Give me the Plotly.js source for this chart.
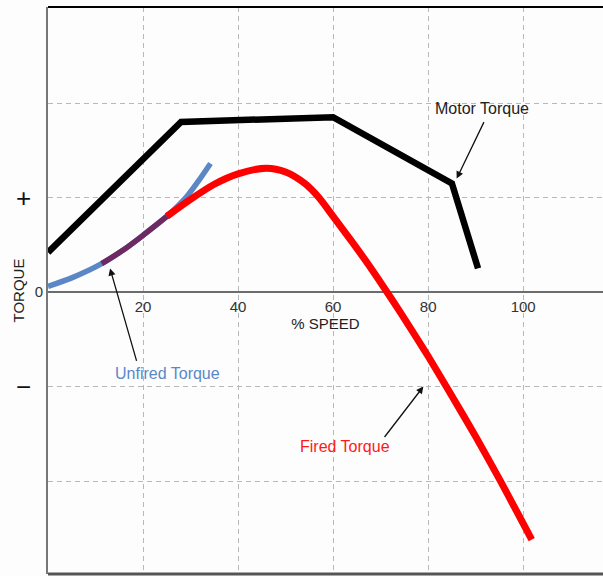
<!DOCTYPE html>
<html>
<head>
<meta charset="utf-8">
<script src="https://cdn.plot.ly/plotly-3.0.1.min.js"></script>
<style>html,body{margin:0;padding:0;background:#fdfdfd;}</style>
</head>
<body>
<div id="chart" style="width:603px;height:576px;"></div>
<script>
// ---- data (speed in %, torque in grid units) ----
const speedMotor   = [0, 28, 60, 85, 90.5];
const torqueMotor  = [0.42, 1.80, 1.85, 1.15, 0.25];

const speedUnfired  = [0, 5, 11.3, 16, 20, 25, 29.2, 31.6, 34.2];
const torqueUnfired = [0.06, 0.15, 0.30, 0.45, 0.60, 0.80, 1.01, 1.17, 1.36];

const speedFired  = [11.3, 16, 20, 25, 30, 35, 40, 46, 50, 54, 57, 60, 64, 68, 72, 76, 80, 85, 90, 95, 101.8];
const torqueFired = [0.30, 0.45, 0.60, 0.80, 0.98, 1.14, 1.25, 1.31, 1.27, 1.15, 1.00, 0.80, 0.53, 0.25, -0.05, -0.36, -0.68, -1.10, -1.53, -1.98, -2.62];
const overlapCount = 4; // first fired points run on top of the unfired curve

const xTickVals  = [20, 40, 60, 80, 100];
const xTickText  = ['20', '40', '60', '80', '100'];
const yTickVals  = [-2, -1, 0, 1, 2];
const yTickText  = ['', '', '0', '', ''];
const ySignVals  = [1, -1];
const ySignText  = ['+', '\u2212'];

const labelMotor   = 'Motor Torque';
const labelUnfired = 'Unfired Torque';
const labelFired   = 'Fired Torque';
const xTitle = '% SPEED';
const yTitle = 'TORQUE';

// ---- styling ----
const FONT = 'Liberation Sans, Arial, Helvetica, sans-serif';
const BLUE = '#5b87c6', RED = '#ff0000', PURPLE = '#6e2862', BLACK = '#000000';
const yMin = -2.984, yMax = 3.016;
const xMin = 0, xMax = 116.8;

const traces = [
  {x: speedUnfired, y: torqueUnfired, mode: 'lines', line: {color: BLUE, width: 5.5, shape: 'spline', smoothing: 0.8}, hoverinfo: 'skip'},
  {x: speedFired.slice(overlapCount - 1), y: torqueFired.slice(overlapCount - 1), mode: 'lines', line: {color: RED, width: 7, shape: 'spline', smoothing: 0.8}, hoverinfo: 'skip'},
  {x: speedFired.slice(0, overlapCount), y: torqueFired.slice(0, overlapCount), mode: 'lines', line: {color: PURPLE, width: 5.5, shape: 'spline', smoothing: 0.8}, hoverinfo: 'skip'},
  {x: speedMotor, y: torqueMotor, mode: 'lines', line: {color: BLACK, width: 6.5}, hoverinfo: 'skip'}
];

const arrowCommon = {showarrow: true, arrowhead: 2, arrowsize: 1.1, arrowwidth: 1.3, arrowcolor: '#111', text: '', axref: 'pixel', ayref: 'pixel'};

const annotations = [
  // arrows (head at data point, tail offset in pixels)
  Object.assign({x: 86.0, y: 1.20, ax: 28, ay: -58}, arrowCommon),
  Object.assign({x: 13.05, y: 0.25, ax: 27, ay: 94}, arrowCommon),
  Object.assign({x: 79.0, y: -1.0, ax: -40, ay: 52}, arrowCommon),
  // labels
  {x: 91.4, y: 1.94, text: labelMotor, showarrow: false, font: {family: FONT, size: 16, color: '#222'}},
  {x: 25.05, y: -0.857, text: labelUnfired, showarrow: false, font: {family: FONT, size: 16, color: BLUE}},
  {x: 62.5, y: -1.64, text: labelFired, showarrow: false, font: {family: FONT, size: 16, color: '#ff1a1a'}}
];
ySignVals.forEach((v, i) => {
  annotations.push({xref: 'paper', x: 0, xanchor: 'center', xshift: -25, y: v, yref: 'y', yanchor: 'middle',
                    text: ySignText[i], showarrow: false,
                    font: {family: FONT, size: 26, color: '#111'}});
});

const layout = {
  width: 603, height: 576,
  margin: {l: 48, r: 0, t: 7, b: 2, pad: 0},
  paper_bgcolor: '#fdfdfd', plot_bgcolor: '#fdfdfd',
  showlegend: false,
  font: {family: FONT, color: '#333'},
  xaxis: {
    range: [xMin, xMax], tickvals: xTickVals, ticktext: xTickText,
    showgrid: true, gridcolor: '#b8b8b8', griddash: '5px,4px', gridwidth: 1,
    zeroline: false, showline: false, ticks: '', ticklabelstandoff: 4,
    anchor: 'free', position: (0 - yMin) / (yMax - yMin),
    tickfont: {family: FONT, size: 15, color: '#333'},
    title: {text: xTitle, font: {family: FONT, size: 15, color: '#222'}, standoff: 2},
    fixedrange: true
  },
  yaxis: {
    range: [yMin, yMax], tickvals: yTickVals, ticktext: yTickText,
    showgrid: true, gridcolor: '#b8b8b8', griddash: '5px,4px', gridwidth: 1,
    zeroline: true, zerolinecolor: '#6c6c6c', zerolinewidth: 2.5,
    showline: true, linecolor: '#777', linewidth: 2, ticks: '',
    tickfont: {family: FONT, size: 15, color: '#333'},
    title: {text: yTitle, font: {family: FONT, size: 15, color: '#222'}, standoff: 6},
    fixedrange: true
  },
  shapes: [
    {type: 'line', xref: 'paper', yref: 'paper', x0: 0, x1: 1, y0: 1, y1: 1, line: {color: '#000', width: 2}},
    {type: 'line', xref: 'paper', yref: 'paper', x0: 0, x1: 1, y0: 0, y1: 0, line: {color: '#555', width: 3}}
  ],
  annotations: annotations
};

Plotly.newPlot('chart', traces, layout, {displayModeBar: false, staticPlot: true});
</script>
</body>
</html>
